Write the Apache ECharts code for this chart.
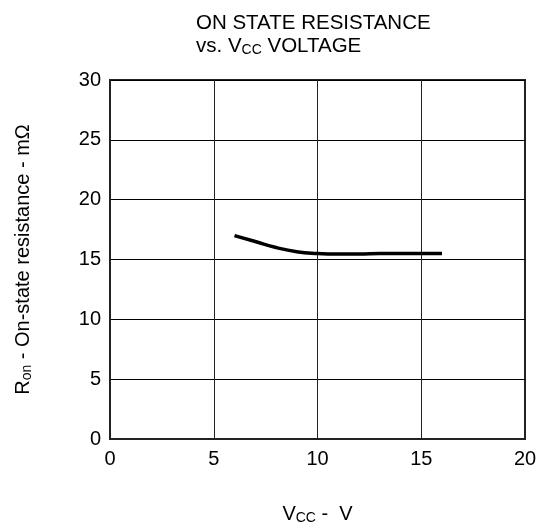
<!DOCTYPE html>
<html><head><meta charset="utf-8">
<script src="https://cdn.jsdelivr.net/npm/echarts@6/dist/echarts.min.js"></script>
<style>html,body{margin:0;padding:0;background:#fff}#c{width:552px;height:530px}</style>
</head><body><div id="c"></div>
<script>
const vcc = [6, 7, 8, 9, 10, 11, 12, 13, 14, 15, 16];
const ron = [17.0, 16.5, 16.0, 15.65, 15.5, 15.45, 15.45, 15.5, 15.5, 15.5, 15.5];
const xTicks = [0, 5, 10, 15, 20];
const yTicks = [0, 5, 10, 15, 20, 25, 30];

const FONT = 'Liberation Sans, Arial, sans-serif';
const chart = echarts.init(document.getElementById('c'));
chart.setOption({
  animation: false,
  textStyle: { fontFamily: FONT },
  title: {
    left: 191, top: 7,
    text: '{m|ON STATE RESISTANCE}\n{m|vs. V}{s|CC}{m| VOLTAGE}',
    textStyle: {
      fontWeight: 'normal',
      rich: {
        m: { fontSize: 20.5, color: '#000', fontFamily: FONT, lineHeight: 23, fontWeight: 'normal' },
        s: { fontSize: 14, color: '#000', fontFamily: FONT, lineHeight: 23, fontWeight: 'normal', padding: [7, 0, 0, 0] }
      }
    }
  },
  grid: { left: 110, right: 27, top: 80, bottom: 88, show: true, borderColor: '#222', borderWidth: 2 },
  xAxis: {
    type: 'value', min: xTicks[0], max: xTicks[xTicks.length - 1], interval: 5,
    axisLine: { show: true, lineStyle: { color: '#222', width: 2 } },
    axisTick: { show: false },
    axisLabel: { color: '#000', fontSize: 20, margin: 10, fontFamily: FONT },
    splitLine: { show: true, lineStyle: { color: '#222', width: 1 } },
    name: '{m|V}{s|CC}{m| -  V}',
    nameLocation: 'middle', nameGap: 64,
    nameTextStyle: {
      rich: {
        m: { fontSize: 20, color: '#000', fontFamily: FONT },
        s: { fontSize: 14, color: '#000', fontFamily: FONT, padding: [8, 0, 0, 0] }
      }
    }
  },
  yAxis: {
    type: 'value', min: yTicks[0], max: yTicks[yTicks.length - 1], interval: 5,
    axisLine: { show: true, lineStyle: { color: '#222', width: 2 } },
    axisTick: { show: false },
    axisLabel: { color: '#000', fontSize: 20, margin: 9, fontFamily: FONT },
    splitLine: { show: true, lineStyle: { color: '#000', width: 1 } },
    name: '{m|R}{s|on}{m| - On-state resistance - mΩ}',
    nameLocation: 'middle', nameGap: 76,
    nameTextStyle: {
      rich: {
        m: { fontSize: 20, color: '#000', fontFamily: FONT },
        s: { fontSize: 14, color: '#000', fontFamily: FONT, padding: [8, 0, 0, 0] }
      }
    }
  },
  series: [{
    type: 'line', data: vcc.map((v, i) => [v, ron[i]]),
    smooth: true, showSymbol: false,
    lineStyle: { color: '#000', width: 3.5 }
  }]
});
</script></body></html>
